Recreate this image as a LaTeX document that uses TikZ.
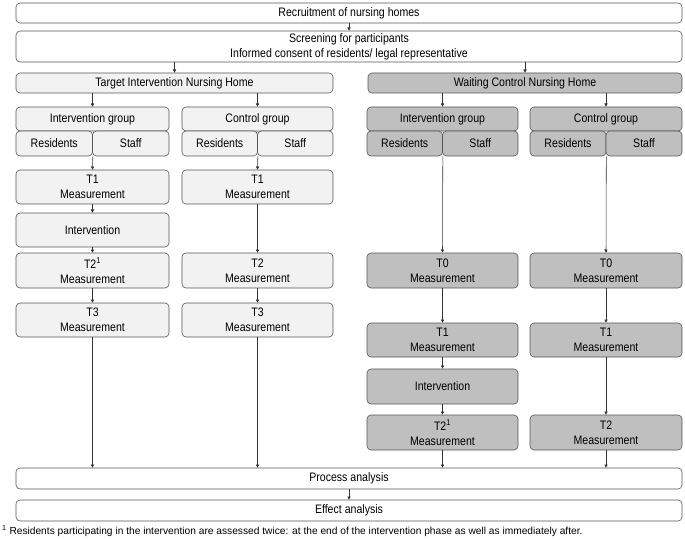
\documentclass[tikz,border=0pt]{standalone}
\usepackage{fontspec}
\setmainfont{Liberation Sans}[FakeStretch=0.86]
\newfontfamily\fnfont{Liberation Sans}
\usetikzlibrary{arrows.meta}
\definecolor{bord}{HTML}{555555}
\definecolor{lightf}{HTML}{F2F2F2}
\definecolor{darkf}{HTML}{BFBFBF}
\definecolor{linec}{HTML}{333333}
\newcommand\mybox[7]{\node[#2, minimum width={#5pt-#3pt}, minimum height={#6pt-#4pt}] (#1) at ({(#3+#5)/2},{(#4+#6)/2}) {#7};}
\tikzset{
  base/.style={draw=bord, line width=0.6pt, rounded corners=4pt, inner sep=0pt, align=center, font=\fontsize{12.3}{15}\selectfont},
  wbox/.style={base, fill=white},
  lbox/.style={base, fill=lightf},
  dbox/.style={base, fill=darkf},
  arr/.style={draw=linec, line width=0.55pt, -{Triangle[length=3.2pt,width=3.2pt]}},
}
\begin{document}
\begin{tikzpicture}[x=1pt,y=-1pt]
\useasboundingbox (0,0) rectangle (685,540);
% top
\mybox{rec}{wbox}{16}{3}{682}{23}{Recruitment of nursing homes}
\mybox{scr}{wbox}{16}{31}{682}{62}{Screening for participants\\Informed consent of residents/ legal representative}
\mybox{tgt}{lbox}{16}{73}{333}{93}{Target Intervention Nursing Home}
\mybox{wait}{dbox}{368}{73}{682}{93}{Waiting Control Nursing Home}
% column L1
\mybox{lag}{lbox}{16}{107}{169}{131}{Intervention group}
\mybox{lar}{lbox}{16}{131}{92.5}{156}{Residents}
\mybox{las}{lbox}{92.5}{131}{169}{156}{Staff}
\mybox{lat1}{lbox}{16}{170}{169}{204}{T1\\Measurement}
\mybox{lai}{lbox}{16}{213}{169}{247}{Intervention}
\mybox{lat2}{lbox}{16}{253}{169}{288}{T2\textsuperscript{1}\\Measurement}
\mybox{lat3}{lbox}{16}{303}{169}{337}{T3\\Measurement}
% column L2
\mybox{lbg}{lbox}{182}{107}{333}{131}{Control group}
\mybox{lbr}{lbox}{182}{131}{257.5}{156}{Residents}
\mybox{lbs}{lbox}{257.5}{131}{333}{156}{Staff}
\mybox{lbt1}{lbox}{182}{170}{333}{204}{T1\\Measurement}
\mybox{lbt2}{lbox}{182}{253}{333}{288}{T2\\Measurement}
\mybox{lbt3}{lbox}{182}{303}{333}{337}{T3\\Measurement}
% column R1
\mybox{rag}{dbox}{367}{107}{518}{131}{Intervention group}
\mybox{rar}{dbox}{367}{131}{442.5}{156}{Residents}
\mybox{ras}{dbox}{442.5}{131}{518}{156}{Staff}
\mybox{rat0}{dbox}{367}{253}{518}{288}{T0\\Measurement}
\mybox{rat1}{dbox}{367}{323}{518}{357}{T1\\Measurement}
\mybox{rai}{dbox}{367}{369}{518}{404}{Intervention}
\mybox{rat2}{dbox}{367}{415}{518}{450}{T2\textsuperscript{1}\\Measurement}
% column R2
\mybox{rbg}{dbox}{530}{107}{682}{131}{Control group}
\mybox{rbr}{dbox}{530}{131}{606}{156}{Residents}
\mybox{rbs}{dbox}{606}{131}{682}{156}{Staff}
\mybox{rbt0}{dbox}{530}{253}{682}{288}{T0\\Measurement}
\mybox{rbt1}{dbox}{530}{323}{682}{357}{T1\\Measurement}
\mybox{rbt2}{dbox}{530}{415}{682}{450}{T2\\Measurement}
% bottom
\mybox{proc}{wbox}{16}{468}{682}{489}{Process analysis}
\mybox{eff}{wbox}{16}{500}{682}{521}{Effect analysis}
\node[anchor=base west, inner sep=0pt, font=\fnfont\fontsize{10.2}{12}\selectfont] (fn) at (2,534) {\textsuperscript{1} Residents participating in the intervention are assessed twice: at the end of the intervention phase as well as immediately after.};
% arrows
\draw[arr] (rec.south) -- (scr.north);
\draw[arr] (scr.south -| tgt.north) -- (tgt.north);
\draw[arr] (scr.south -| wait.north) -- (wait.north);
\draw[arr] (tgt.south -| lag.north) -- (lag.north);
\draw[arr] (tgt.south -| lbg.north) -- (lbg.north);
\draw[arr] (wait.south -| rag.north) -- (rag.north);
\draw[arr] (wait.south -| rbg.north) -- (rbg.north);
\draw[arr] (lar.south east) -- (lat1.north);
\draw[arr] (lat1) -- (lai);
\draw[arr] (lai) -- (lat2);
\draw[arr] (lat2) -- (lat3);
\draw[arr] (lbr.south east) -- (lbt1.north);
\draw[arr] (lbt1) -- (lbt2);
\draw[arr] (lbt2) -- (lbt3);
\draw[arr] (rar.south east) -- (rat0.north);
\draw[arr] (rat0) -- (rat1);
\draw[arr] (rat1) -- (rai);
\draw[arr] (rai) -- (rat2);
\draw[arr] (rbr.south east) -- (rbt0.north);
\draw[arr] (rbt0) -- (rbt1);
\draw[arr] (rbt1) -- (rbt2);
\draw[arr] (lat3.south) -- (lat3.south |- proc.north);
\draw[arr] (lbt3.south) -- (lbt3.south |- proc.north);
\draw[arr] (rat2.south) -- (rat2.south |- proc.north);
\draw[arr] (rbt2.south) -- (rbt2.south |- proc.north);
\draw[arr] (proc) -- (eff);
\end{tikzpicture}
\end{document}
